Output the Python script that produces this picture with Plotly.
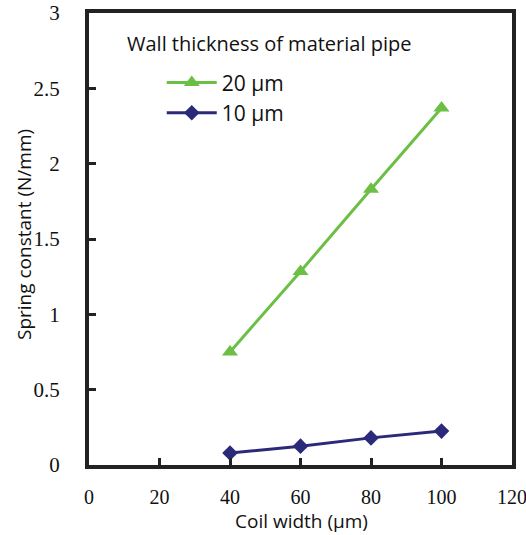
import plotly.graph_objects as go

coil_width = [40, 60, 80, 100]
k_20um = [0.75, 1.285, 1.83, 2.37]
k_10um = [0.08, 0.125, 0.18, 0.225]
x_ticks = [0, 20, 40, 60, 80, 100, 120]
y_ticks = [0, 0.5, 1, 1.5, 2, 2.5, 3]
y_tick_text = ["0", "0.5", "1", "1.5", "2", "2.5", "3"]

green = "#6cbf45"
navy = "#2b2a7a"
serif = "Liberation Serif, Times New Roman, serif"
sans = "Open Sans, Liberation Sans, sans-serif"

fig = go.Figure()
fig.add_trace(go.Scatter(x=coil_width, y=k_20um, mode="lines+markers", name="20 μm",
                         line=dict(color=green, width=3),
                         marker=dict(symbol="triangle-up", size=14, color=green)))
fig.add_trace(go.Scatter(x=coil_width, y=k_10um, mode="lines+markers", name="10 μm",
                         line=dict(color=navy, width=3),
                         marker=dict(symbol="diamond", size=12, color=navy)))

axis_common = dict(showline=True, linewidth=4, linecolor="#222", mirror=True,
                   showgrid=False, zeroline=False, ticks="inside", ticklen=7,
                   tickwidth=2.5, tickcolor="#222", automargin=False,
                   ticklabeloverflow="allow")

fig.update_xaxes(range=[0, 120], tickvals=x_ticks, ticklabelstandoff=11,
                 tickfont=dict(family=serif, size=20, color="#111"), **axis_common)
fig.update_yaxes(range=[0, 3], tickvals=y_ticks, ticktext=y_tick_text, ticklabelstandoff=21,
                 tickfont=dict(family=serif, size=21, color="#111"), **axis_common)

fig.add_annotation(text="Coil width (μm)", xref="paper", yref="paper",
                   x=0.5035, y=-0.1228, xanchor="center", yanchor="middle",
                   showarrow=False, font=dict(family=sans, size=19, color="#111"))
fig.add_annotation(text="Spring constant (N/mm)", xref="paper", yref="paper",
                   x=-0.1537, y=0.511, xanchor="center", yanchor="middle", textangle=-90,
                   showarrow=False, font=dict(family=sans, size=19, color="#111"))
fig.add_annotation(text="Wall thickness of material pipe", xref="paper", yref="paper",
                   x=0.0851, y=0.9336, xanchor="left", yanchor="middle",
                   showarrow=False, font=dict(family=sans, size=20, color="#111"))

fig.update_layout(width=526, height=535, autosize=False,
                  margin=dict(l=89, r=14, t=13, b=70, autoexpand=False),
                  paper_bgcolor="white", plot_bgcolor="white",
                  legend=dict(x=0.172, y=0.891, xanchor="left", yanchor="top",
                              bgcolor="rgba(0,0,0,0)", itemwidth=50,
                              font=dict(family=sans, size=21, color="#111"),
                              tracegroupgap=0))

fig.write_html("out.html", config={"displayModeBar": False},
               post_script="document.body.style.margin='0';")
